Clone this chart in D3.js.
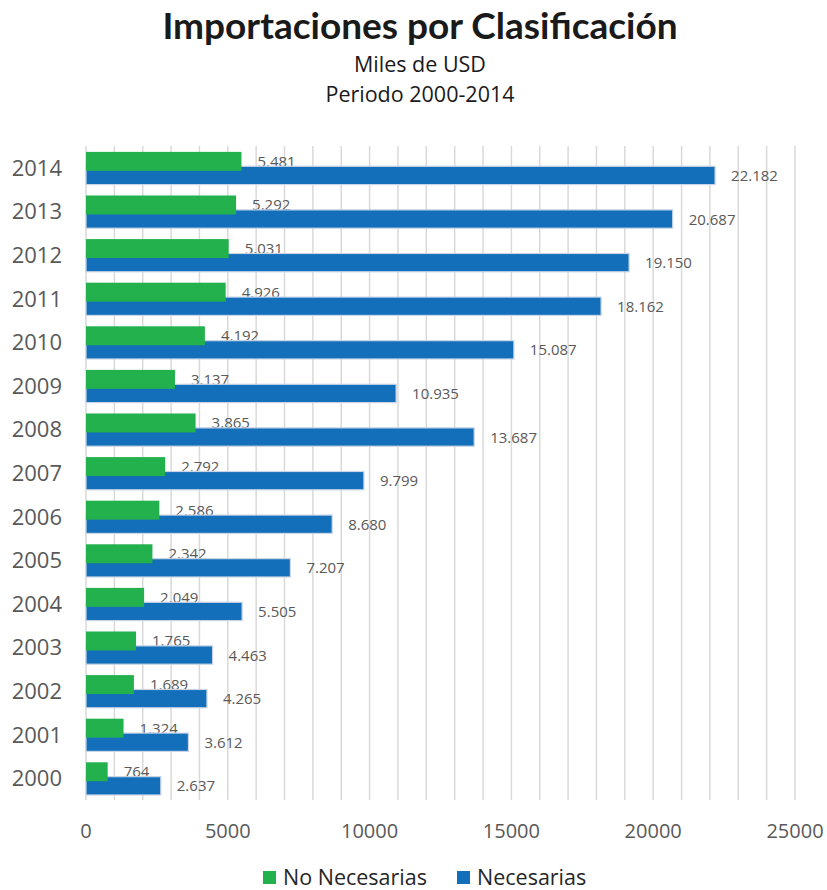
<!DOCTYPE html>
<html>
<head>
<meta charset="utf-8">
<script src="https://cdn.jsdelivr.net/npm/d3@7"></script>
<style>
  body { margin: 0; background: #fff; }
  svg text { font-family: "Open Sans", "Lato", sans-serif; }
</style>
</head>
<body>
<svg id="chart" width="827" height="890"></svg>
<script>
var years = ["2000", "2001", "2002", "2003", "2004", "2005", "2006", "2007",
    "2008", "2009", "2010", "2011", "2012", "2013", "2014"];
var noNecesarias = [764, 1324, 1689, 1765, 2049, 2342, 2586, 2792, 3865, 3137, 4192, 4926, 5031, 5292, 5481];
var necesarias = [2637, 3612, 4265, 4463, 5505, 7207, 8680, 9799, 13687, 10935, 15087, 18162, 19150, 20687, 22182];
var xTicks = [0, 5000, 10000, 15000, 20000, 25000];
var seriesNames = ["No Necesarias", "Necesarias"];
var colors = ["#23b14d", "#136fba"];

var svg = d3.select("#chart");
var plotLeft = 86, plotRight = 795, plotTop = 146, plotBottom = 800;

var x = d3.scaleLinear().domain([0, 25000]).range([plotLeft, plotRight]);
var y = d3.scaleBand().domain(years.slice().reverse()).range([plotTop, plotBottom]).paddingInner(0);
var bw = y.bandwidth();

var esLocale = d3.formatLocale({ decimal: ",", thousands: ".", grouping: [3], currency: ["$", ""] });
var fmt = esLocale.format(",d");

// titulo
svg.append("text").attr("x", 420).attr("y", 39).attr("text-anchor", "middle")
    .style("font-family", "Lato, sans-serif").style("font-weight", "bold")
    .style("font-size", "37px").style("fill", "#1a1a1a")
    .text("Importaciones por Clasificación");
svg.append("text").attr("x", 420).attr("y", 72).attr("text-anchor", "middle")
    .style("font-size", "21.5px").style("fill", "#1a1a1a").text("Miles de USD");
svg.append("text").attr("x", 420).attr("y", 102).attr("text-anchor", "middle")
    .style("font-size", "21.5px").style("fill", "#1a1a1a").text("Periodo 2000-2014");

// grid cada 1000
svg.append("g").selectAll("line")
    .data(d3.range(0, 25001, 1000))
    .enter().append("line")
    .attr("x1", function (d) { return x(d); })
    .attr("x2", function (d) { return x(d); })
    .attr("y1", plotTop).attr("y2", plotBottom)
    .attr("stroke", "#d9d9d9").attr("stroke-width", 1.5);

// eje x
svg.append("g").selectAll("text")
    .data(xTicks)
    .enter().append("text")
    .attr("x", function (d) { return x(d); })
    .attr("y", 838)
    .attr("text-anchor", "middle")
    .style("font-size", "20px").style("fill", "#595959")
    .text(function (d) { return d; });

// eje y
svg.append("g").selectAll("text")
    .data(years)
    .enter().append("text")
    .attr("x", 62)
    .attr("y", function (d) { return y(d) + bw / 2 + 8; })
    .attr("text-anchor", "end")
    .style("font-size", "22px").style("fill", "#595959")
    .text(function (d) { return d; });

var rows = years.map(function (yr, i) {
    return { year: yr, a: noNecesarias[i], b: necesarias[i] };
});

// etiquetas verdes (quedan tapadas por las barras azules)
svg.append("g").selectAll("text")
    .data(rows)
    .enter().append("text")
    .attr("x", function (d) { return x(d.a) + 16; })
    .attr("y", function (d) { return y(d.year) + bw * 0.35 + 5.5; })
    .style("font-size", "15px").style("fill", "#595959")
    .text(function (d) { return fmt(d.a); });

svg.append("g").selectAll("rect")
    .data(rows)
    .enter().append("rect")
    .attr("x", x(0))
    .attr("y", function (d) { return y(d.year) + bw * 0.465; })
    .attr("width", function (d) { return x(d.b) - x(0); })
    .attr("height", bw * 0.42)
    .attr("fill", colors[1])
    .attr("stroke", "#c9d5e6").attr("stroke-width", 1.2);

svg.append("g").selectAll("rect")
    .data(rows)
    .enter().append("rect")
    .attr("x", x(0))
    .attr("y", function (d) { return y(d.year) + bw * 0.135; })
    .attr("width", function (d) { return x(d.a) - x(0); })
    .attr("height", bw * 0.435)
    .attr("fill", colors[0]);

svg.append("g").selectAll("text")
    .data(rows)
    .enter().append("text")
    .attr("x", function (d) { return x(d.b) + 16; })
    .attr("y", function (d) { return y(d.year) + bw * 0.675 + 5.5; })
    .style("font-size", "15px").style("fill", "#595959")
    .text(function (d) { return fmt(d.b); });

// leyenda
var legendX = [263, 457];
var lg = svg.append("g").selectAll("g")
    .data(seriesNames)
    .enter().append("g")
    .attr("transform", function (d, i) { return "translate(" + legendX[i] + ",871)"; });
lg.append("rect").attr("width", 13).attr("height", 13)
    .attr("fill", function (d, i) { return colors[i]; });
lg.append("text").attr("x", 20).attr("y", 14)
    .style("font-size", "21.5px").style("fill", "#262626")
    .text(function (d) { return d; });
</script>
</body>
</html>
